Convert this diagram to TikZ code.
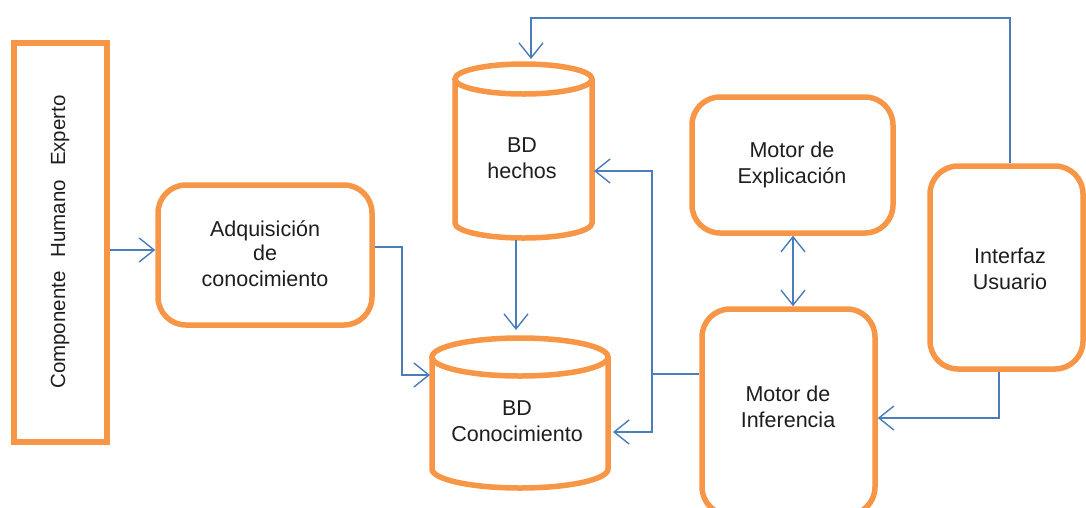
\documentclass[tikz,border=0pt]{standalone}
\usepackage{fontspec}
\setmainfont{Liberation Sans}
\usetikzlibrary{arrows.meta}
\definecolor{boxorange}{HTML}{F79646}
\definecolor{linkblue}{HTML}{4A7DBA}
\definecolor{ink}{HTML}{1E1E1E}
\begin{document}
\begin{tikzpicture}[x=1pt,y=-1pt,
  box/.style={draw=boxorange, line width=5.5pt, fill=white, rounded corners=28pt, inner sep=0pt},
  cyl/.style={draw=boxorange, line width=5.5pt, fill=white},
  txt/.style={text=ink, align=center, font=\fontsize{21.5}{26.5}\selectfont},
  conn/.style={draw=linkblue, line width=1.4pt, -{Straight Barb[length=15pt,width=24pt]}},
  bothconn/.style={draw=linkblue, line width=1.4pt, {Straight Barb[length=15pt,width=24pt]}-{Straight Barb[length=15pt,width=24pt]}},
  plain/.style={draw=linkblue, line width=1.4pt}]
\useasboundingbox (0,0) rectangle (1086,507);

% human expert
\node[draw=boxorange, line width=5.5pt, fill=white, minimum width=93pt, minimum height=399pt, inner sep=0pt] (expert) at (60.5,242.5) {};
\node[txt, rotate=90, font=\fontsize{20.5}{24}\selectfont] (expertT) at (60,242) {Componente\hspace{14pt}Humano\hspace{14pt}Experto};

% knowledge acquisition
\node[box, minimum width=214pt, minimum height=140pt] (adq) at (265,255) {};
\node[txt] (adqT) at (265,254) {Adquisición\\[-3pt]de\\conocimiento};

% explanation engine
\node[box, minimum width=201pt, minimum height=136pt] (expl) at (792.5,165) {};
\node[txt] (explT) at (792,165) {Motor de\\Explicación};

% inference engine (runs past the lower edge)
\node[box, minimum width=173pt, minimum height=206pt] (infer) at (788.5,412) {};
\node[txt] (inferT) at (788,407) {Motor de\\Inferencia};

% user interface
\node[box, minimum width=153pt, minimum height=203pt] (iface) at (1006.5,267.5) {};
\node[txt] (ifaceT) at (1010,269) {Interfaz\\Usuario};

% facts database
\draw[cyl] (455,79) -- (455,223) arc[start angle=180, end angle=0, x radius=68.5, y radius=15] -- (592,79);
\draw[cyl] (523.5,79) ellipse[x radius=68.5, y radius=15];
\node[txt] (hechosT) at (522,158) {BD\\hechos};

% knowledge database
\draw[cyl] (432,357) -- (432,469) arc[start angle=180, end angle=0, x radius=88, y radius=19] -- (608,357);
\draw[cyl] (520,357) ellipse[x radius=88, y radius=19];
\node[txt] (conocT) at (517,421) {BD\\Conocimiento};

% connection points
\coordinate (hechosTop) at (531,59);
\coordinate (hechosBot) at (516,240);
\coordinate (hechosR) at (594,171);
\coordinate (conocTop) at (516,330);
\coordinate (conocL) at (430,375);
\coordinate (conocR) at (613,432);
\coordinate (busTop) at (652,171);
\coordinate (busMid) at (652,374);
\coordinate (busBot) at (652,432);
\coordinate (adqBend) at (402,247);
\coordinate (adqDown) at (402,375);
\coordinate (loopR) at (1010,18);
\coordinate (loopL) at (531,18);
\coordinate (ifaceBend) at (999,418);
\coordinate (linkX) at (793,0);

% connectors
\draw[conn] (expert.east |- 0,250) -- (adq.west |- 0,250);
\draw[conn] (adq.east |- adqBend) -- (adqBend) -- (adqDown) -- (conocL);
\draw[conn] (hechosBot) -- (conocTop);
\draw[conn] (iface.north -| loopR) -- (loopR) -- (loopL) -- (hechosTop);
\draw[bothconn] (hechosR) -- (busTop) -- (busBot) -- (conocR);
\draw[plain] (infer.west |- busMid) -- (busMid);
\draw[bothconn] (expl.south -| linkX) -- (infer.north -| linkX);
\draw[conn] (iface.south -| ifaceBend) -- (ifaceBend) -- (infer.east |- ifaceBend);
\end{tikzpicture}
\end{document}
